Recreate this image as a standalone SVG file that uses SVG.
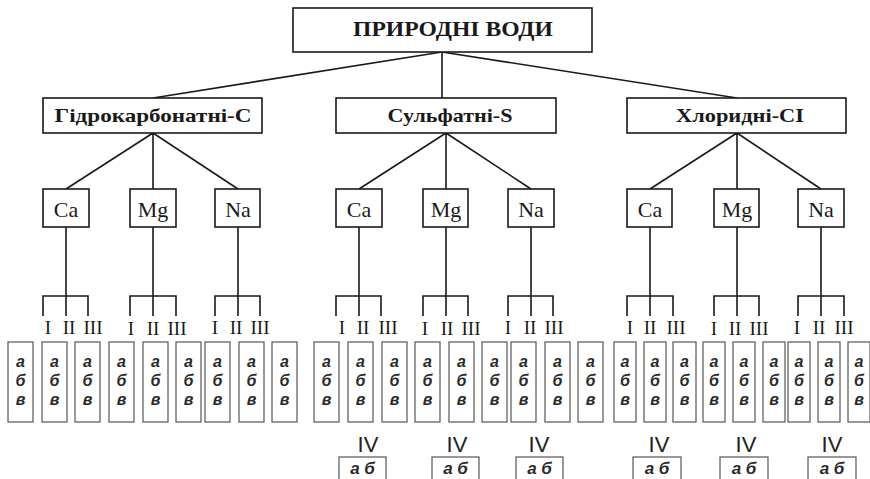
<svg xmlns="http://www.w3.org/2000/svg" width="870" height="479" viewBox="0 0 870 479">
<style>
.bx{fill:#fff;stroke:#1a1a1a;stroke-width:1.6}
.sb{fill:#fff;stroke:#555;stroke-width:1.2}
.ln{fill:none;stroke:#1a1a1a;stroke-width:1.6}
.t0{font-family:"Liberation Serif",serif;font-weight:bold;font-size:21px;fill:#1a1a1a;text-anchor:middle}
.t1{font-family:"Liberation Serif",serif;font-weight:bold;font-size:19px;fill:#1a1a1a;text-anchor:middle}
.t2{font-family:"Liberation Serif",serif;font-size:22px;fill:#1a1a1a;text-anchor:middle}
.rn{font-family:"Liberation Serif",serif;font-size:19px;fill:#1a1a1a;text-anchor:middle}
.ab{font-family:"Liberation Sans",sans-serif;font-weight:bold;font-style:italic;font-size:16px;fill:#2a2a2a;text-anchor:middle}
.ab2{font-family:"Liberation Sans",sans-serif;font-weight:bold;font-style:italic;font-size:17px;fill:#2a2a2a;text-anchor:middle}
.iv{font-family:"Liberation Sans",sans-serif;font-size:22px;fill:#222;text-anchor:middle}
</style>
<rect width="870" height="479" fill="#fff"/>
<g id="connectors">
<path class="ln" d="M442 52L153 98M442 52L442 98M442 52L737 98"/>
<path class="ln" d="M153 133L66 189M153 133L153 189M153 133L238 189"/>
<path class="ln" d="M446 133L359 189M446 133L446 189M446 133L531 189"/>
<path class="ln" d="M737 133L650 189M737 133L737 189M737 133L821 189"/>
<path class="ln" d="M66 227V316M43 316V296H88V316M153 227V316M130 316V296H176V316M238 227V316M215 316V296H260V316"/>
<path class="ln" d="M359 227V316M336 316V296H381V316M446 227V316M423 316V296H468V316M531 227V316M508 316V296H553V316"/>
<path class="ln" d="M650 227V316M627 316V296H673V316M737 227V316M714 316V296H759V316M821 227V316M798 316V296H844V316"/>
</g>
<g id="root"><rect class="bx" x="293" y="8" width="299" height="44"/><text class="t0" x="453" y="36" textLength="200" lengthAdjust="spacingAndGlyphs">ПРИРОДНІ ВОДИ</text></g>
<g id="hydro"><rect class="bx" x="43" y="98" width="219" height="35"/><text class="t1" x="153" y="122" textLength="197" lengthAdjust="spacingAndGlyphs">Гідрокарбонатні-С</text></g>
<g id="sulf"><rect class="bx" x="336" y="98" width="220" height="35"/><text class="t1" x="450" y="122" textLength="125" lengthAdjust="spacingAndGlyphs">Сульфатні-S</text></g>
<g id="chlor"><rect class="bx" x="627" y="98" width="219" height="35"/><text class="t1" x="740" y="122" textLength="128" lengthAdjust="spacingAndGlyphs">Хлоридні-СІ</text></g>
<g id="c-ca1"><rect class="bx" x="43" y="189" width="46" height="38"/><text class="t2" x="66" y="217">Ca</text></g>
<g id="c-mg1"><rect class="bx" x="130" y="189" width="46" height="38"/><text class="t2" x="153" y="217">Mg</text></g>
<g id="c-na1"><rect class="bx" x="215" y="189" width="45" height="38"/><text class="t2" x="238" y="217">Na</text></g>
<g id="c-ca2"><rect class="bx" x="336" y="189" width="46" height="38"/><text class="t2" x="359" y="217">Ca</text></g>
<g id="c-mg2"><rect class="bx" x="423" y="189" width="45" height="38"/><text class="t2" x="446" y="217">Mg</text></g>
<g id="c-na2"><rect class="bx" x="508" y="189" width="46" height="38"/><text class="t2" x="531" y="217">Na</text></g>
<g id="c-ca3"><rect class="bx" x="627" y="189" width="45" height="38"/><text class="t2" x="650" y="217">Ca</text></g>
<g id="c-mg3"><rect class="bx" x="714" y="189" width="45" height="38"/><text class="t2" x="737" y="217">Mg</text></g>
<g id="c-na3"><rect class="bx" x="798" y="189" width="46" height="38"/><text class="t2" x="821" y="217">Na</text></g>
<g id="roman">
<text class="rn" y="334"><tspan x="48">I</tspan><tspan x="69">II</tspan><tspan x="93">III</tspan></text>
<text class="rn" y="335"><tspan x="131">I</tspan><tspan x="153">II</tspan><tspan x="177">III</tspan></text>
<text class="rn" y="334"><tspan x="215">I</tspan><tspan x="236">II</tspan><tspan x="260">III</tspan></text>
<text class="rn" y="334"><tspan x="342">I</tspan><tspan x="363">II</tspan><tspan x="388">III</tspan></text>
<text class="rn" y="335"><tspan x="425">I</tspan><tspan x="447">II</tspan><tspan x="471">III</tspan></text>
<text class="rn" y="334"><tspan x="508">I</tspan><tspan x="530">II</tspan><tspan x="554">III</tspan></text>
<text class="rn" y="334"><tspan x="630">I</tspan><tspan x="650">II</tspan><tspan x="676">III</tspan></text>
<text class="rn" y="335"><tspan x="714">I</tspan><tspan x="735">II</tspan><tspan x="759">III</tspan></text>
<text class="rn" y="334"><tspan x="797">I</tspan><tspan x="819">II</tspan><tspan x="844">III</tspan></text>
</g>
<g id="sub">
<g><rect class="sb" x="8" y="342" width="25" height="80"/><text class="ab"><tspan x="20.5" y="367">а</tspan><tspan x="20.5" y="386">б</tspan><tspan x="20.5" y="405">в</tspan></text></g>
<g><rect class="sb" x="42" y="342" width="25" height="80"/><text class="ab"><tspan x="54.5" y="367">а</tspan><tspan x="54.5" y="386">б</tspan><tspan x="54.5" y="405">в</tspan></text></g>
<g><rect class="sb" x="75" y="342" width="25" height="80"/><text class="ab"><tspan x="87.5" y="367">а</tspan><tspan x="87.5" y="386">б</tspan><tspan x="87.5" y="405">в</tspan></text></g>
<g><rect class="sb" x="109" y="342" width="25" height="80"/><text class="ab"><tspan x="121.5" y="367">а</tspan><tspan x="121.5" y="386">б</tspan><tspan x="121.5" y="405">в</tspan></text></g>
<g><rect class="sb" x="143" y="342" width="25" height="80"/><text class="ab"><tspan x="155.5" y="367">а</tspan><tspan x="155.5" y="386">б</tspan><tspan x="155.5" y="405">в</tspan></text></g>
<g><rect class="sb" x="176" y="342" width="25" height="80"/><text class="ab"><tspan x="188.5" y="367">а</tspan><tspan x="188.5" y="386">б</tspan><tspan x="188.5" y="405">в</tspan></text></g>
<g><rect class="sb" x="205" y="342" width="25" height="80"/><text class="ab"><tspan x="217.5" y="367">а</tspan><tspan x="217.5" y="386">б</tspan><tspan x="217.5" y="405">в</tspan></text></g>
<g><rect class="sb" x="239" y="342" width="25" height="80"/><text class="ab"><tspan x="251.5" y="367">а</tspan><tspan x="251.5" y="386">б</tspan><tspan x="251.5" y="405">в</tspan></text></g>
<g><rect class="sb" x="272" y="342" width="25" height="80"/><text class="ab"><tspan x="284.5" y="367">а</tspan><tspan x="284.5" y="386">б</tspan><tspan x="284.5" y="405">в</tspan></text></g>
<g><rect class="sb" x="314" y="342" width="25" height="80"/><text class="ab"><tspan x="326.5" y="367">а</tspan><tspan x="326.5" y="386">б</tspan><tspan x="326.5" y="405">в</tspan></text></g>
<g><rect class="sb" x="348" y="342" width="25" height="80"/><text class="ab"><tspan x="360.5" y="367">а</tspan><tspan x="360.5" y="386">б</tspan><tspan x="360.5" y="405">в</tspan></text></g>
<g><rect class="sb" x="382" y="342" width="25" height="80"/><text class="ab"><tspan x="394.5" y="367">а</tspan><tspan x="394.5" y="386">б</tspan><tspan x="394.5" y="405">в</tspan></text></g>
<g><rect class="sb" x="415" y="342" width="25" height="80"/><text class="ab"><tspan x="427.5" y="367">а</tspan><tspan x="427.5" y="386">б</tspan><tspan x="427.5" y="405">в</tspan></text></g>
<g><rect class="sb" x="449" y="342" width="25" height="80"/><text class="ab"><tspan x="461.5" y="367">а</tspan><tspan x="461.5" y="386">б</tspan><tspan x="461.5" y="405">в</tspan></text></g>
<g><rect class="sb" x="482" y="342" width="25" height="80"/><text class="ab"><tspan x="494.5" y="367">а</tspan><tspan x="494.5" y="386">б</tspan><tspan x="494.5" y="405">в</tspan></text></g>
<g><rect class="sb" x="511" y="342" width="25" height="80"/><text class="ab"><tspan x="523.5" y="367">а</tspan><tspan x="523.5" y="386">б</tspan><tspan x="523.5" y="405">в</tspan></text></g>
<g><rect class="sb" x="545" y="342" width="25" height="80"/><text class="ab"><tspan x="557.5" y="367">а</tspan><tspan x="557.5" y="386">б</tspan><tspan x="557.5" y="405">в</tspan></text></g>
<g><rect class="sb" x="578" y="342" width="25" height="80"/><text class="ab"><tspan x="590.5" y="367">а</tspan><tspan x="590.5" y="386">б</tspan><tspan x="590.5" y="405">в</tspan></text></g>
<g><rect class="sb" x="614" y="342" width="22" height="80"/><text class="ab"><tspan x="625" y="367">а</tspan><tspan x="625" y="386">б</tspan><tspan x="625" y="405">в</tspan></text></g>
<g><rect class="sb" x="644" y="342" width="22" height="80"/><text class="ab"><tspan x="655" y="367">а</tspan><tspan x="655" y="386">б</tspan><tspan x="655" y="405">в</tspan></text></g>
<g><rect class="sb" x="673" y="342" width="23" height="80"/><text class="ab"><tspan x="684.5" y="367">а</tspan><tspan x="684.5" y="386">б</tspan><tspan x="684.5" y="405">в</tspan></text></g>
<g><rect class="sb" x="703" y="342" width="22" height="80"/><text class="ab"><tspan x="714" y="367">а</tspan><tspan x="714" y="386">б</tspan><tspan x="714" y="405">в</tspan></text></g>
<g><rect class="sb" x="733" y="342" width="22" height="80"/><text class="ab"><tspan x="744" y="367">а</tspan><tspan x="744" y="386">б</tspan><tspan x="744" y="405">в</tspan></text></g>
<g><rect class="sb" x="763" y="342" width="22" height="80"/><text class="ab"><tspan x="774" y="367">а</tspan><tspan x="774" y="386">б</tspan><tspan x="774" y="405">в</tspan></text></g>
<g><rect class="sb" x="788" y="342" width="22" height="80"/><text class="ab"><tspan x="799" y="367">а</tspan><tspan x="799" y="386">б</tspan><tspan x="799" y="405">в</tspan></text></g>
<g><rect class="sb" x="818" y="342" width="22" height="80"/><text class="ab"><tspan x="829" y="367">а</tspan><tspan x="829" y="386">б</tspan><tspan x="829" y="405">в</tspan></text></g>
<g><rect class="sb" x="848" y="342" width="22" height="80"/><text class="ab"><tspan x="859" y="367">а</tspan><tspan x="859" y="386">б</tspan><tspan x="859" y="405">в</tspan></text></g>
</g>
<g id="iv">
<g><text class="iv" x="368" y="452">IV</text><rect class="sb" x="339" y="457" width="47" height="30"/><text class="ab2" x="362.5" y="474">а б</text></g>
<g><text class="iv" x="457" y="452">IV</text><rect class="sb" x="432" y="457" width="47" height="30"/><text class="ab2" x="455.5" y="474">а б</text></g>
<g><text class="iv" x="539" y="452">IV</text><rect class="sb" x="516" y="457" width="47" height="30"/><text class="ab2" x="539.5" y="474">а б</text></g>
<g><text class="iv" x="659" y="452">IV</text><rect class="sb" x="633" y="457" width="48" height="30"/><text class="ab2" x="657" y="474">а б</text></g>
<g><text class="iv" x="746" y="452">IV</text><rect class="sb" x="720" y="457" width="48" height="30"/><text class="ab2" x="744" y="474">а б</text></g>
<g><text class="iv" x="832" y="452">IV</text><rect class="sb" x="808" y="457" width="48" height="30"/><text class="ab2" x="832" y="474">а б</text></g>
</g>
</svg>
